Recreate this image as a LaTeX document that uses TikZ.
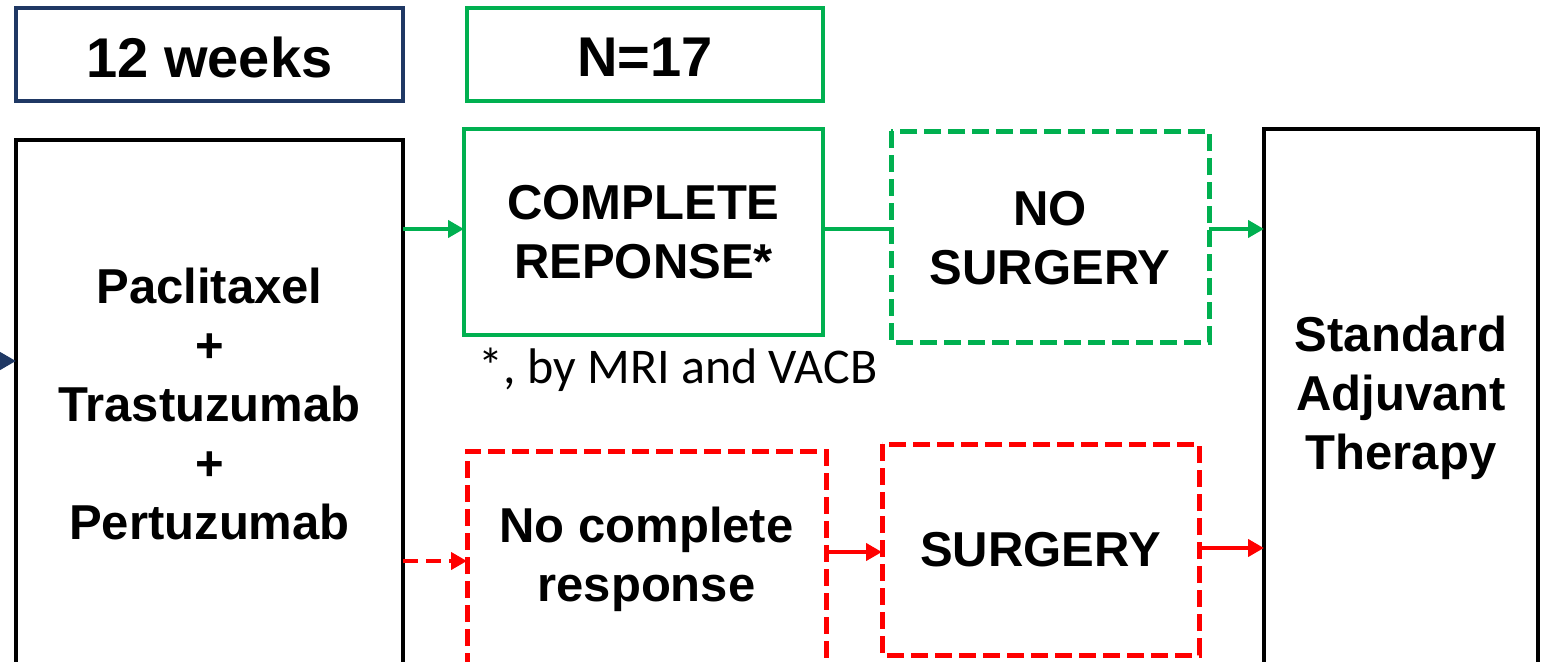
\documentclass[tikz,border=0pt]{standalone}
\usepackage{fontspec}
\setmainfont{Liberation Sans}
\newfontfamily\calib{Carlito}
\usetikzlibrary{arrows.meta}
\definecolor{cgreen}{HTML}{00B050}
\definecolor{cred}{HTML}{FF0000}
\definecolor{cnavy}{HTML}{1F3864}
\tikzset{
  txt/.style={align=center, font=\fontsize{49}{59}\selectfont\bfseries},
  dsh/.style={dash pattern=on 17pt off 7pt},
  arr/.style={line width=4.5pt, -{Triangle[length=16pt,width=17pt]}},
}
\begin{document}
\begin{tikzpicture}[x=1pt,y=-1pt]
\useasboundingbox (0,0) rectangle (1544,661);
\fill[white] (0,0) rectangle (1544,661);
% top labels
\draw[cnavy, line width=4pt] (16,8) rectangle (403,101);
\node[font=\fontsize{56}{60}\selectfont\bfseries] (wk) at (209.5,57) {12 weeks};
\draw[cgreen, line width=4pt] (467,8) rectangle (823,101);
\node[font=\fontsize{56}{60}\selectfont\bfseries] (n17) at (645,57) {N=17};
% boxes
\draw[line width=4.5pt] (16,670) -- (16,140) -- (403,140) -- (403,670);
\node[txt] (drug) at (209.5,404) {Paclitaxel\\+\\Trastuzumab\\+\\Pertuzumab};
\coordinate (dl) at (16,361);
\coordinate (dgr) at (403,229);
\coordinate (drd) at (403,561);

\draw[cgreen, line width=4.5pt] (464,129) rectangle (823,335);
\node[txt] (cr) at (643.5,232) {COMPLETE\\REPONSE*};
\coordinate (crl) at (464,229);
\coordinate (crr) at (823,229);

\draw[cgreen, line width=5pt, dsh] (891,131) rectangle (1209,342);
\node[txt] (ns) at (1050,238) {NO\\SURGERY};
\coordinate (nsl) at (891,229);
\coordinate (nsr) at (1209,229);

\draw[line width=4.5pt] (1264,670) -- (1264,129) -- (1538,129) -- (1538,670);
\node[txt] (sat) at (1401,398) {Standard\\Adjuvant\\Therapy};
\coordinate (satg) at (1264,229);
\coordinate (satr) at (1264,548);

\draw[cred, line width=5pt, dsh] (467,670) -- (467,451) -- (826,451) -- (826,670);
\node[txt] (ncr) at (646.5,559) {No complete\\response};
\coordinate (ncrl) at (467,561);
\coordinate (ncrr) at (826,552);

\draw[cred, line width=5pt, dsh] (882,444) rectangle (1199,655);
\node[txt] (surg) at (1040.5,550) {SURGERY};
\coordinate (sgl) at (882,552);
\coordinate (sgr) at (1199,548);

\node[font=\calib\fontsize{50}{60}\selectfont] (note) at (678,370) {*, by MRI and VACB};

% connectors
\coordinate (lstart) at (-20,361);
\draw[arr, cnavy] (lstart) -- (dl);
\draw[arr, cgreen] (dgr) -- (crl);
\draw[line width=4.5pt, cgreen] (crr) -- (nsl);
\draw[arr, cgreen] (nsr) -- (satg);
\draw[arr, cred, dash pattern=on 15pt off 8pt] (drd) -- (ncrl);
\draw[arr, cred] (ncrr) -- (sgl);
\draw[arr, cred] (sgr) -- (satr);
\end{tikzpicture}
\end{document}
